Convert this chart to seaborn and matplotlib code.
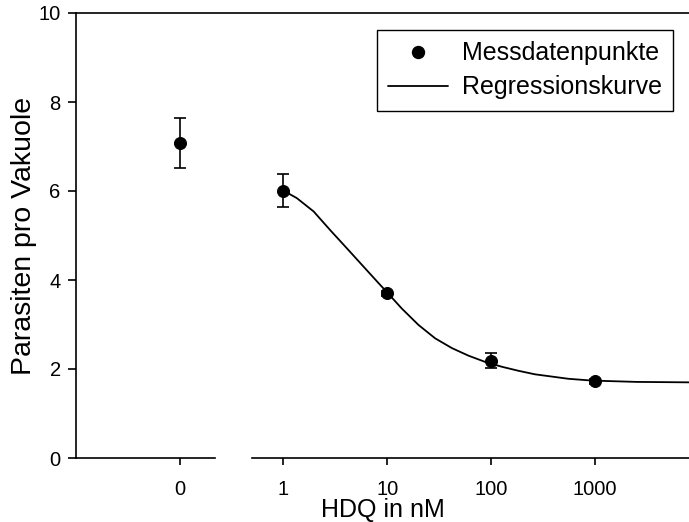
import matplotlib
matplotlib.use("Agg")
import matplotlib.pyplot as plt
from matplotlib.lines import Line2D
from matplotlib.ticker import NullLocator
import seaborn as sns

# Kontrolle ohne HDQ (eigene Achse links)
ctrl_dose = [0]
ctrl_mean = [7.07]
ctrl_err = [0.56]

# Messdatenpunkte (HDQ in nM)
dose = [1, 10, 100, 1000]
mean = [6.01, 3.70, 2.19, 1.72]
err = [0.37, 0.05, 0.16, 0.05]

# Regressionskurve
fit_dose = [1, 1.35, 1.96, 2.83, 4.10, 5.92, 8.56, 10, 13.8, 20.0, 28.9,
            41.9, 60.5, 87.5, 127, 183, 265, 384, 554, 929, 2514, 8000]
fit_val = [6.01, 5.84, 5.54, 5.12, 4.71, 4.30, 3.89, 3.72, 3.36, 2.99, 2.69,
           2.47, 2.30, 2.16, 2.05, 1.96, 1.88, 1.83, 1.78, 1.74, 1.71, 1.70]

x_ticks = [1, 10, 100, 1000]
x_ticklabels = ["1", "10", "100", "1000"]
y_ticks = [0, 2, 4, 6, 8, 10]

sns.set_style("ticks")
plt.rcParams['font.family'] = ['Liberation Sans', 'DejaVu Sans']
plt.rcParams['axes.linewidth'] = 1.2
for key in ['text.color', 'axes.labelcolor', 'xtick.color', 'ytick.color',
            'axes.edgecolor']:
    plt.rcParams[key] = 'black'

W, H = 689, 522
fig = plt.figure(figsize=(W / 100, H / 100), dpi=100)
bottom = 64 / H
height = 445 / H
ax0 = fig.add_axes([76 / W, bottom, 139 / W, height])
ax1 = fig.add_axes([252 / W, bottom, 437 / W, height])

# linke Achse: Kontrolle
ax0.errorbar(ctrl_dose, ctrl_mean, yerr=ctrl_err, fmt='none', ecolor='black',
             elinewidth=1.2, capsize=4.5, capthick=1.2)
sns.scatterplot(x=ctrl_dose, y=ctrl_mean, ax=ax0, color='black', s=75,
                edgecolor='black', zorder=3)
ax0.set_xlim(-3, 1.01)
ax0.set_ylim(0, 10)
ax0.set_xticks([0])
ax0.set_xticklabels(["0"])
ax0.set_yticks(y_ticks)
ax0.set_yticklabels([str(v) for v in y_ticks])
for s in ['top', 'right']:
    ax0.spines[s].set_visible(False)

# rechte Achse: Dosis-Wirkung (log)
ax1.errorbar(dose, mean, yerr=err, fmt='none', ecolor='black',
             elinewidth=1.2, capsize=4.5, capthick=1.2)
sns.lineplot(x=fit_dose, y=fit_val, ax=ax1, color='black', lw=1.3,
             sort=False, estimator=None)
sns.scatterplot(x=dose, y=mean, ax=ax1, color='black', s=75,
                edgecolor='black', zorder=3)
ax1.set_xscale('log')
ax1.set_xlim(0.50, 8020)
ax1.set_ylim(0, 10)
ax1.set_xticks(x_ticks)
ax1.set_xticklabels(x_ticklabels)
ax1.xaxis.set_minor_locator(NullLocator())
ax1.tick_params(left=False, labelleft=False)
for s in ['top', 'right', 'left']:
    ax1.spines[s].set_visible(False)

for ax in (ax0, ax1):
    ax.tick_params(axis='y', direction='out', length=6, width=1.2,
                   labelsize=14.5, pad=5)
    ax.tick_params(axis='x', direction='out', length=5, width=1.2,
                   labelsize=14.5, pad=11)

# durchgehende obere Linie
fig.add_artist(Line2D([76 / W, 1.0], [1 - 13 / H, 1 - 13 / H],
                      transform=fig.transFigure, color='black', lw=1.2))

fig.text(382.5 / W, 1 - 510 / H, "HDQ in nM", ha='center', va='center',
         fontsize=18)
fig.text(24 / W, 1 - 235.5 / H, "Parasiten pro Vakuole", ha='center',
         va='center', rotation=90, fontsize=20.5)

handles = [Line2D([], [], marker='o', ls='none', color='black', ms=8.6),
           Line2D([], [], color='black', lw=1.3)]
leg = fig.legend(handles, ["Messdatenpunkte", "Regressionskurve"],
                 loc='upper right', bbox_to_anchor=(673 / W, 1 - 30 / H),
                 frameon=True, fancybox=False, edgecolor='black',
                 framealpha=1, fontsize=18, handlelength=2.4,
                 handletextpad=0.55, borderaxespad=0, labelspacing=0.4,
                 borderpad=0.45)
leg.get_frame().set_linewidth(1.0)

fig.savefig('out.png', dpi=100)
